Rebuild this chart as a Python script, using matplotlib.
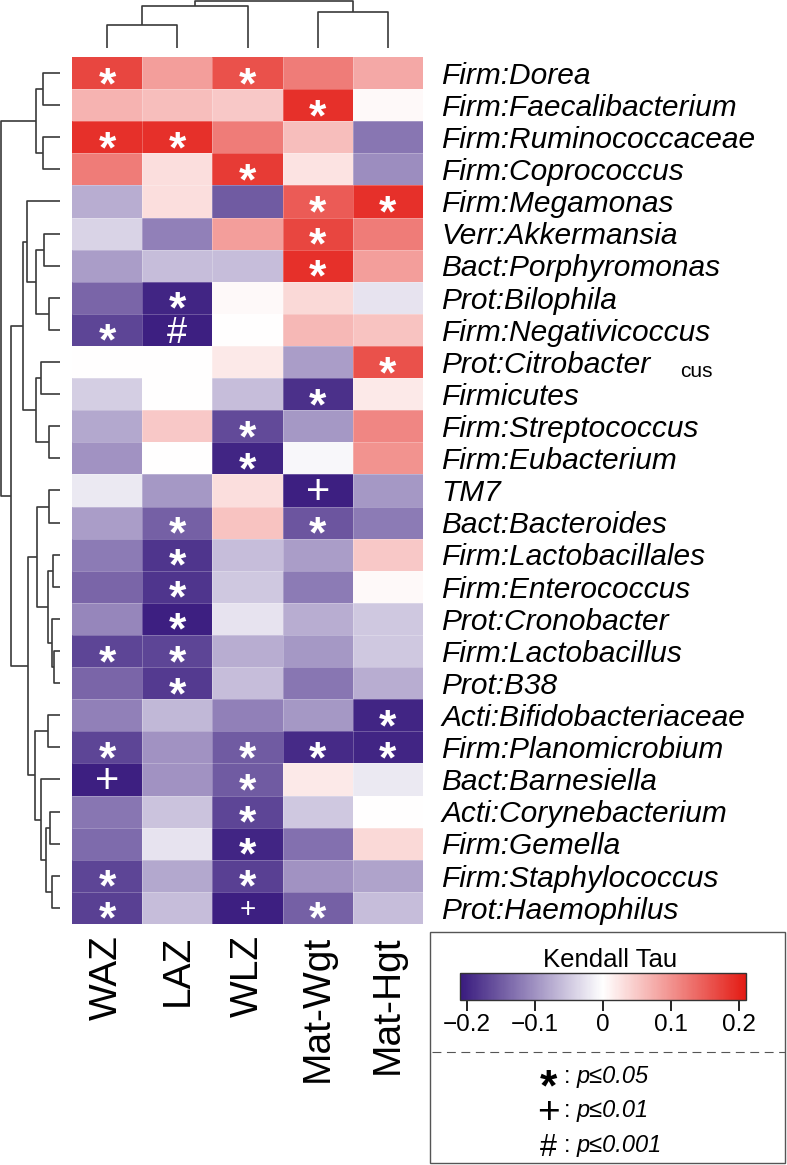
import numpy as np
import matplotlib
matplotlib.use('Agg')
import matplotlib.pyplot as plt
import matplotlib.transforms as mtransforms
from matplotlib.colors import LinearSegmentedColormap, Normalize
from matplotlib.cm import ScalarMappable
from matplotlib.patches import Rectangle
from matplotlib.lines import Line2D

plt.rcParams['font.family'] = ['Liberation Sans', 'DejaVu Sans']

# rows, top to bottom (clustered order)
taxa = ['Firm:Dorea', 'Firm:Faecalibacterium', 'Firm:Ruminococcaceae', 'Firm:Coprococcus',
        'Firm:Megamonas', 'Verr:Akkermansia', 'Bact:Porphyromonas', 'Prot:Bilophila',
        'Firm:Negativicoccus', 'Prot:Citrobacter', 'Firmicutes', 'Firm:Streptococcus',
        'Firm:Eubacterium', 'TM7', 'Bact:Bacteroides', 'Firm:Lactobacillales',
        'Firm:Enterococcus', 'Prot:Cronobacter', 'Firm:Lactobacillus', 'Prot:B38',
        'Acti:Bifidobacteriaceae', 'Firm:Planomicrobium', 'Bact:Barnesiella',
        'Acti:Corynebacterium', 'Firm:Gemella', 'Firm:Staphylococcus', 'Prot:Haemophilus']
columns = ['WAZ', 'LAZ', 'WLZ', 'Mat-Wgt', 'Mat-Hgt']

# Kendall tau per column
waz = [0.17, 0.07, 0.19, 0.12, -0.075, -0.04, -0.09, -0.14, -0.17, 0.0, -0.045, -0.08, -0.1,
       -0.02, -0.09, -0.12, -0.14, -0.11, -0.17, -0.14, -0.115, -0.17, -0.205, -0.125, -0.135, -0.17, -0.175]
laz = [0.09, 0.06, 0.19, 0.03, 0.03, -0.115, -0.06, -0.2, -0.205, 0.0, 0.0, 0.05, 0.0,
       -0.095, -0.145, -0.185, -0.185, -0.205, -0.17, -0.18, -0.065, -0.1, -0.1, -0.055, -0.025, -0.08, -0.06]
wlz = [0.16, 0.05, 0.12, 0.18, -0.15, 0.09, -0.06, 0.005, 0.0, 0.02, -0.06, -0.165, -0.2,
       0.03, 0.055, -0.06, -0.05, -0.025, -0.075, -0.06, -0.115, -0.15, -0.15, -0.17, -0.2, -0.175, -0.205]
mat_wgt = [0.12, 0.19, 0.06, 0.025, 0.15, 0.17, 0.19, 0.035, 0.065, -0.09, -0.19, -0.095, -0.007,
           -0.205, -0.155, -0.09, -0.12, -0.075, -0.095, -0.125, -0.095, -0.195, 0.02, -0.05, -0.13, -0.1, -0.145]
mat_hgt = [0.08, 0.005, -0.125, -0.105, 0.19, 0.12, 0.09, -0.025, 0.055, 0.16, 0.02, 0.11, 0.1,
           -0.095, -0.12, 0.05, 0.005, -0.05, -0.05, -0.075, -0.2, -0.2, -0.02, 0.0, 0.035, -0.085, -0.06]

# significance marks per row ('.' = none)
sig = ['*.*..', '...*.', '**...', '..*..', '...**', '...*.', '...*.', '.*...', '*#...',
       '....*', '...*.', '..*..', '..*..', '...+.', '.*.*.', '.*...', '.*...', '.*...',
       '**...', '.*...', '....*', '*.***', '+.*..', '..*..', '..*..', '*.*..', '*.+*.']

# row tree: (child a, child b, height); new clusters numbered from 27
row_merges = [(0, 1, 17), (2, 3, 17), (27, 28, 24), (5, 6, 16), (7, 8, 11), (30, 31, 24),
              (4, 32, 34), (9, 10, 19), (11, 12, 11), (34, 35, 24), (33, 36, 37.3),
              (13, 14, 11), (15, 16, 7), (18, 19, 6), (17, 40, 8.5), (39, 41, 12),
              (38, 42, 23), (20, 21, 12), (23, 24, 10), (25, 26, 8), (45, 46, 14),
              (22, 47, 19), (44, 48, 25), (43, 49, 33), (37, 50, 50), (29, 51, 60)]
# column tree
col_merges = [(0, 1, 23), (5, 2, 42), (3, 4, 36), (6, 7, 47)]

W, H = 787, 1165
fig = plt.figure(figsize=(W / 100, H / 100), dpi=100)


def rect(x0, y0, x1, y1):
    return [x0 / W, 1 - y1 / H, (x1 - x0) / W, (y1 - y0) / H]


def dendro(merges, n):
    pos = {i: i + 0.5 for i in range(n)}
    hgt = {i: 0.0 for i in range(n)}
    segs = []
    for k, (a, b, h) in enumerate(merges):
        segs.append(([hgt[a], h, h, hgt[b]], [pos[a], pos[a], pos[b], pos[b]]))
        pos[n + k] = (pos[a] + pos[b]) / 2
        hgt[n + k] = h
    return segs


data = np.array([waz, laz, wlz, mat_wgt, mat_hgt]).T
nr, nc = data.shape

cmap = LinearSegmentedColormap.from_list('kt', ['#381a7e', '#ffffff', '#e31b14'])
norm = Normalize(-0.21, 0.21)

# heatmap
ax = fig.add_axes(rect(72, 57, 423, 924))
ax.pcolormesh(np.arange(nc + 1), np.arange(nr + 1), data, cmap=cmap, norm=norm)
ax.hlines(np.arange(1, nr), 0, nc, color='white', lw=0.5, alpha=0.35)
ax.vlines(np.arange(1, nc), 0, nr, color='white', lw=0.5, alpha=0.35)
ax.set_xlim(0, nc)
ax.set_ylim(nr, 0)
for s in ax.spines.values():
    s.set_visible(False)
ax.set_yticks([])
ax.set_xticks(np.arange(nc) + 0.5)
ax.set_xticklabels(columns, rotation=90, fontsize=28)
ax.tick_params(axis='x', length=0, pad=8)

sym_size = {'*': 32, '+': 30, '#': 26}
sym_mid = {'*': 0.56, '+': 0.33, '#': 0.35}
for i in range(nr):
    for j in range(nc):
        s = sig[i][j]
        if s == '.':
            continue
        fs = sym_size[s]
        if i == nr - 1 and j == 2:
            fs = 20
        off = mtransforms.ScaledTranslation(0, -sym_mid[s] * fs / 72, fig.dpi_scale_trans)
        ax.text(j + 0.5, i + 0.5, s, color='white', fontsize=fs, ha='center', va='baseline',
                fontweight='bold' if s == '*' else 'normal',
                transform=ax.transData + off)

# row labels
lab_fs = 21.5
lab_off = mtransforms.ScaledTranslation(18 / 100, -0.36 * lab_fs / 72, fig.dpi_scale_trans)
for i, t in enumerate(taxa):
    ax.text(nc, i + 0.5, t, fontsize=lab_fs, style='italic', ha='left', va='baseline',
            transform=ax.transData + lab_off, clip_on=False)
fig.text(680 / W, 1 - 377 / H, 'cus', fontsize=15, ha='left', va='baseline')

# left dendrogram
axl = fig.add_axes(rect(0, 57, 60, 924))
for xs, ys in dendro(row_merges, nr):
    axl.plot(xs, ys, color='#3a3a3a', lw=1.2, clip_on=False, solid_capstyle='butt')
axl.set_xlim(61, 0)
axl.set_ylim(nr, 0)
axl.axis('off')

# top dendrogram
axt = fig.add_axes(rect(72, 0, 423, 48))
for ys, xs in dendro(col_merges, nc):
    axt.plot(xs, ys, color='#3a3a3a', lw=1.2, clip_on=False, solid_capstyle='butt')
axt.set_xlim(0, nc)
axt.set_ylim(0, 48)
axt.axis('off')

# legend box
fig.add_artist(Rectangle((430 / W, 1 - 1163 / H), 355 / W, 231 / H, transform=fig.transFigure,
                         fill=False, ec='#555555', lw=1))
fig.text(610 / W, 1 - 960 / H, 'Kendall Tau', fontsize=18.5, ha='center', va='center')
cax = fig.add_axes(rect(460, 973, 746, 1000))
cb = fig.colorbar(ScalarMappable(norm=norm, cmap=cmap), cax=cax, orientation='horizontal')
cb.set_ticks([-0.2, -0.1, 0, 0.1, 0.2])
cb.set_ticklabels(['\u22120.2', '\u22120.1', '0', '0.1', '0.2'])
cb.ax.tick_params(length=8, width=1.4, color='#222222', labelsize=17.5, pad=2)
cb.outline.set_linewidth(1)
cb.outline.set_edgecolor('#333333')
fig.add_artist(Line2D([432 / W, 785 / W], [1 - 1052 / H] * 2, transform=fig.transFigure,
                      color='#555555', lw=0.8, ls=(0, (8, 5))))

leg_items = [('*', 'p\u22640.05', 1083), ('+', 'p\u22640.01', 1117), ('#', 'p\u22640.001', 1152)]
leg_size = {'*': 32, '+': 28, '#': 22}
for s, lab, yb in leg_items:
    fs = leg_size[s]
    ymid = yb - 7
    fig.text(548 / W, 1 - ymid / H, s, fontsize=fs, ha='center', va='baseline',
             fontweight='bold' if s == '*' else 'normal',
             transform=fig.transFigure + mtransforms.ScaledTranslation(0, -sym_mid[s] * fs / 72, fig.dpi_scale_trans))
    fig.text(567 / W, 1 - yb / H, ':', fontsize=17, ha='center', va='baseline')
    fig.text(577 / W, 1 - yb / H, lab, fontsize=17, style='italic', ha='left', va='baseline')

fig.savefig('out.png', dpi=100)
